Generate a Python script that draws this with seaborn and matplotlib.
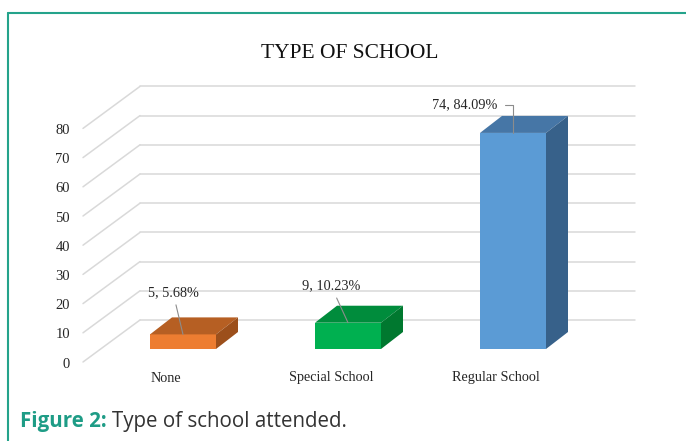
import matplotlib
matplotlib.use("Agg")
import matplotlib.pyplot as plt
from matplotlib.patches import Polygon
from matplotlib.lines import Line2D
import seaborn as sns
import pandas as pd

categories = ["None", "Special School", "Regular School"]
counts = [5, 9, 74]
percents = ["5.68%", "10.23%", "84.09%"]
front_colors = ["#ED7D31", "#00B050", "#5B9BD5"]
top_colors = ["#B65F23", "#008C3C", "#4676A6"]
side_colors = ["#9C4F1B", "#00782F", "#37618A"]
yticks = [0, 10, 20, 30, 40, 50, 60, 70, 80]

sns.set_theme(style="white")
plt.rcParams["font.family"] = ["Liberation Serif", "DejaVu Serif"]

W, H = 686, 441
fig = plt.figure(figsize=(W / 100, H / 100), dpi=100)
fig.patch.set_facecolor("white")

# axes placement in pixels
px_left, px_right = 75, 640
px_zero, px_top = 349, 87
ppu = 2.92  # pixels per unit
x0_px, step_px = 183, 165
ax = fig.add_axes([px_left / W, (H - px_zero) / H, (px_right - px_left) / W, (px_zero - px_top) / H])
xlim = ((px_left - x0_px) / step_px, (px_right - x0_px) / step_px)
ylim = (0, (px_zero - px_top) / ppu)

df = pd.DataFrame({"cat": categories, "count": counts})
sns.barplot(data=df, x="cat", y="count", hue="cat", palette=front_colors,
            width=0.4, legend=False, ax=ax, zorder=3, saturation=1, linewidth=0)
ax.set_xlim(*xlim)
ax.set_ylim(*ylim)
ax.axis("off")
upp = 1 / ppu

# depth offsets (data units)
bdx, bdy = 22 / step_px, 17 * upp
wall_x0 = (140 - x0_px) / step_px
wall_x1 = (635 - x0_px) / step_px
front_x = (83 - x0_px) / step_px
back_shift = (px_zero - 320) * upp   # back wall zero line above bar baseline
front_shift = (px_zero - 362) * upp  # front edge zero line below bar baseline

grid_c = "#D9D9D9"
for v in yticks:
    ax.plot([wall_x0, wall_x1], [v + back_shift, v + back_shift], color=grid_c, lw=1.1, zorder=1, clip_on=False)
    ax.plot([front_x, wall_x0], [v + front_shift, v + back_shift], color=grid_c, lw=1.1, zorder=1, clip_on=False)
    ax.text(front_x - 13 / step_px, v + front_shift - 2 * upp, str(v), ha="right", va="center",
            fontsize=10.5, color="#262626", clip_on=False)

# 3D faces
for i, p in enumerate(ax.patches[:3]):
    x0 = p.get_x(); x1 = x0 + p.get_width(); h = p.get_height()
    top = Polygon([(x0, h), (x1, h), (x1 + bdx, h + bdy), (x0 + bdx, h + bdy)],
                  closed=True, facecolor=top_colors[i], edgecolor="none", zorder=3)
    side = Polygon([(x1, 0), (x1 + bdx, bdy), (x1 + bdx, h + bdy), (x1, h)],
                   closed=True, facecolor=side_colors[i], edgecolor="none", zorder=3)
    ax.add_patch(top); ax.add_patch(side)

# category labels
for i, c in enumerate(categories):
    ax.text(i - 17 / step_px, -29 * upp, c, ha="center", va="center", fontsize=10.3,
            color="#262626", clip_on=False)

# data labels
offsets_px = [(-10, 42), (-17, 37), (-48, 28)]
for i, (c, pct) in enumerate(zip(counts, percents)):
    dx, dy = offsets_px[i]
    if i < 2:
        cs = "arc3"
        sa = 2
    else:
        cs = "angle,angleA=0,angleB=90,rad=0"
        sa = 3
    ax.annotate(f"{c}, {pct}", xy=(i, c), xytext=(dx * 0.72, dy * 0.72), textcoords="offset points",
                ha="center", va="center", fontsize=10.3, color="#262626", zorder=6,
                arrowprops=dict(arrowstyle="-", color="#8C8C8C", lw=0.8, shrinkA=sa, shrinkB=0,
                                connectionstyle=cs))

# title
fig.text(350 / W, 1 - 53 / H, "TYPE OF SCHOOL", ha="center", va="center", fontsize=15.5, color="#111111")

# border
teal = "#24A38B"
fig.add_artist(Line2D([8 / W, 1], [1 - 12.5 / H, 1 - 12.5 / H], color=teal, lw=1.5, transform=fig.transFigure))
fig.add_artist(Line2D([8 / W, 8 / W], [0, 1 - 12.5 / H], color=teal, lw=1.5, transform=fig.transFigure))

# caption
cap_y = 1 - 421 / H
t1 = fig.text(20 / W, cap_y, "Figure 2:", ha="left", va="center", fontsize=14.8, fontweight="bold",
              color="#1E9C86", family=["Open Sans", "DejaVu Sans"])
fig.canvas.draw()
bb = t1.get_window_extent()
fig.text((bb.x1 + 5) / W, cap_y, "Type of school attended.", ha="left", va="center", fontsize=14.8,
         color="#333333", family=["Open Sans", "DejaVu Sans"])

fig.savefig("out.png", dpi=100, facecolor="white")
